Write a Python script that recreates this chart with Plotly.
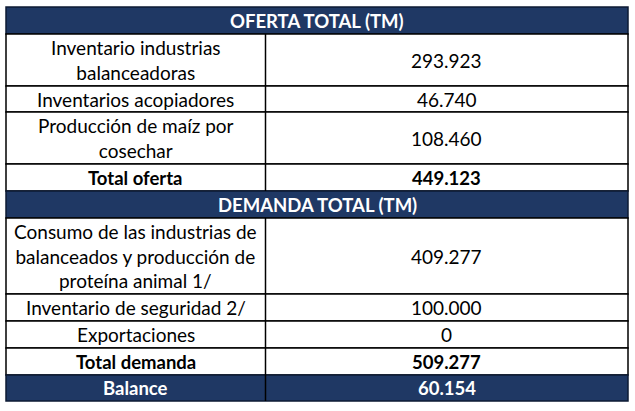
import plotly.graph_objects as go

# table contents
oferta_labels = ["Inventario industrias<br>balanceadoras", "Inventarios acopiadores",
                 "Producción de maíz por<br>cosechar"]
oferta_values = ["293.923", "46.740", "108.460"]
total_oferta = "449.123"

demanda_labels = ["Consumo de las industrias de<br>balanceados y producción de<br>proteína animal 1/",
                  "Inventario de seguridad 2/", "Exportaciones"]
demanda_values = ["409.277", "100.000", "0"]
total_demanda = "509.277"
balance = "60.154"

header_oferta = "OFERTA TOTAL (TM)"
header_demanda = "DEMANDA TOTAL (TM)"

NAVY = "#1F3864"
FONT = "Lato"
SIZE = 19
HEAD_SIZE = 18.5

# row layout: (kind, label, value, height)
rows = [("header", header_oferta, None, 27)]
for lab, val in zip(oferta_labels, oferta_values):
    rows.append(("body", lab, val, 26 * (lab.count("<br>") + 1)))
rows.append(("total", "Total oferta", total_oferta, 27))
rows.append(("header", header_demanda, None, 27))
for lab, val in zip(demanda_labels, demanda_values):
    rows.append(("body", lab, val, 27 if lab.count("<br>") == 0 else 76))
rows.append(("total", "Total demanda", total_demanda, 27))
rows.append(("balance", "Balance", balance, 26))

x0, xm, x1 = 6, 265.5, 628
y = 7

fig = go.Figure()
shapes = []
annotations = []

for kind, lab, val, h in rows:
    top, bot = y, y + h
    mid = (top + bot) / 2
    dark = kind in ("header", "balance")
    shapes.append(dict(type="rect", x0=x0, x1=x1, y0=top, y1=bot,
                       fillcolor=NAVY if dark else "white",
                       line=dict(color="#0d1a33" if dark else "black", width=1.5), layer="below"))
    if kind == "header":
        annotations.append(dict(x=(x0 + x1) / 2, y=mid, text="<b>" + lab + "</b>",
                                font=dict(color="white", size=HEAD_SIZE, family=FONT)))
    else:
        color = "white" if dark else "black"
        shapes.append(dict(type="line", x0=xm, x1=xm, y0=top, y1=bot,
                           line=dict(color="black", width=1.5)))
        bold = kind in ("total", "balance")
        t_lab = "<b>" + lab + "</b>" if bold else lab
        t_val = "<b>" + val + "</b>" if bold else val
        sz = HEAD_SIZE if bold else SIZE
        annotations.append(dict(x=(x0 + xm) / 2, y=mid, text=t_lab,
                                font=dict(color=color, size=sz, family=FONT)))
        annotations.append(dict(x=(xm + x1) / 2, y=mid, text=t_val,
                                font=dict(color=color, size=sz, family=FONT)))
    y = bot

for a in annotations:
    a.update(xref="x", yref="y", showarrow=False, xanchor="center", yanchor="middle", align="center")

fig.update_layout(
    width=635, height=411,
    margin=dict(l=0, r=0, t=0, b=0),
    paper_bgcolor="white", plot_bgcolor="white",
    xaxis=dict(range=[0, 635], visible=False, fixedrange=True),
    yaxis=dict(range=[411, 0], visible=False, fixedrange=True),
    shapes=shapes, annotations=annotations,
    showlegend=False,
)

fig.write_html("out.html", config={"displayModeBar": False},
               post_script="document.body.style.margin='0px';")
